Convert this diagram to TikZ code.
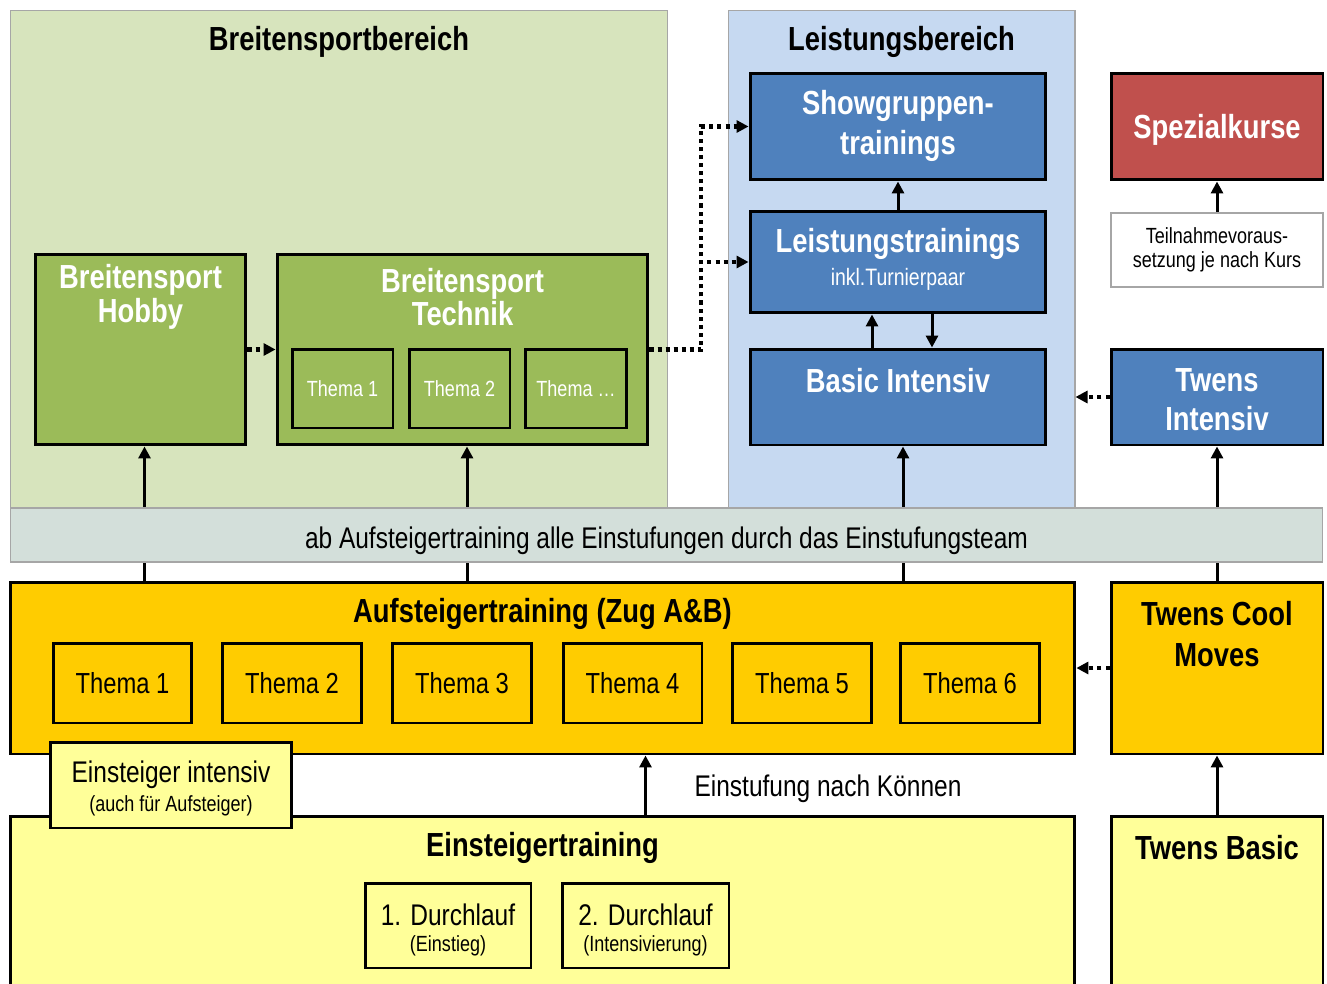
\documentclass[tikz,border=0pt]{standalone}
\usepackage{fontspec}
\setmainfont[FakeStretch=0.82]{Liberation Sans}
\usetikzlibrary{%
  arrows.meta,%
  positioning,%
  calc%
}
\definecolor{bgGreen}{HTML}{D7E4BD}
\definecolor{bgBlue}{HTML}{C6D9F1}
\definecolor{bandGray}{HTML}{D3DFDA}
\definecolor{boxGreen}{HTML}{9BBB59}
\definecolor{boxBlue}{HTML}{4F81BD}
\definecolor{boxRed}{HTML}{C0504D}
\definecolor{boxOrange}{HTML}{FFCC00}
\definecolor{boxYellow}{HTML}{FFFF99}
\definecolor{frameGray}{HTML}{A6A6A6}

\begin{document}
\begin{tikzpicture}
[x=0.02cm, y=-0.02cm, line width=1.7pt, >={Triangle[length=2.4mm,width=2.4mm]},
area/.style={rectangle, draw=frameGray, line width=0.6pt, inner sep=0pt},
box/.style={rectangle, draw=black, line width=1.7pt, inner sep=0pt},
gbox/.style={box, fill=boxGreen},
bbox/.style={box, fill=boxBlue},
obox/.style={box, fill=boxOrange},
ybox/.style={box, fill=boxYellow},
gthema/.style={gbox, minimum width=2.02cm, minimum height=1.58cm, text=white, font=\fontsize{12.5}{14}\selectfont},
othema/.style={obox, minimum width=2.78cm, minimum height=1.6cm, font=\fontsize{16.5}{18}\selectfont},
areatitle/.style={font=\bfseries\fontsize{19}{21}\selectfont, inner sep=0pt},
wtitle/.style={text=white, align=center, font=\bfseries\fontsize{19}{19}\selectfont, inner sep=0pt},
ktitle/.style={align=center, font=\bfseries\fontsize{19}{23}\selectfont, inner sep=0pt},
plain/.style={align=center, font=\fontsize{17}{19}\selectfont, inner sep=0pt},
small/.style={align=center, font=\fontsize{12.5}{13.5}\selectfont, inner sep=0pt},
flow/.style={->, line width=1.7pt},
hint/.style={->, line width=2.3pt, dash pattern=on 2.3pt off 2.3pt}]

\useasboundingbox (0,0) rectangle (1327,983);

% Bereiche
\node[area, fill=bgGreen, minimum width=13.16cm, minimum height=9.96cm] (breiten) at (339,259) {};
\node[area, fill=bgBlue, minimum width=6.94cm, minimum height=9.96cm] (leistung) at (901.5,259) {};
\node[areatitle] (breitenT) at (339,42) {Breitensportbereich};
\node[areatitle] (leistungT) at (901.5,42) {Leistungsbereich};

% Breitensport
\node[gbox, minimum width=4.22cm, minimum height=3.82cm] (hobby) at (140.5,349.5) {};
\node[wtitle] (hobbyT) at (140.5,297) {Breitensport\\Hobby};
\node[gbox, minimum width=7.42cm, minimum height=3.82cm] (technik) at (462.5,349.5) {};
\node[wtitle] (technikT) at (462.5,297) {Breitensport\\Technik};
\node[gthema] (gthema1) at (342.5,388.5) {Thema 1};
\node[gthema] (gthema2) at (459.5,388.5) {Thema 2};
\node[gthema] (gthema3) at (576,388.5) {Thema \ldots};

% Leistung
\node[bbox, minimum width=5.92cm, minimum height=2.14cm] (show) at (898,126.5) {};
\node[wtitle, font=\bfseries\fontsize{19}{23}\selectfont] (showT) at (898,126) {Showgruppen-\\trainings};
\node[bbox, minimum width=5.92cm, minimum height=2.04cm] (leist) at (898,262) {};
\node[wtitle] (leistT) at (898,244) {Leistungstrainings};
\node[small, font=\fontsize{13.5}{15}\selectfont, text=white] (leistS) at (898,279) {inkl.Turnierpaar};
\node[bbox, minimum width=5.92cm, minimum height=1.92cm] (basic) at (898,397) {};
\node[wtitle] (basicT) at (898,381) {Basic Intensiv};

% rechte Spalte
\node[box, fill=boxRed, minimum width=4.24cm, minimum height=2.14cm] (spezial) at (1217,126.5) {};
\node[wtitle] (spezialT) at (1217,130) {Spezialkurse};
\node[rectangle, draw=frameGray, line width=1pt, fill=white, minimum width=4.24cm, minimum height=1.48cm] (teil) at (1217,250) {};
\node[small] (teilT) at (1217,250) {Teilnahmevoraus-\\setzung je nach Kurs};
\node[bbox, minimum width=4.24cm, minimum height=1.92cm] (twensI) at (1217,397) {};
\node[wtitle, font=\bfseries\fontsize{19}{22}\selectfont] (twensIT) at (1217,400) {Twens\\Intensiv};

% Pfeile durch das Band
\draw[flow] ([xshift=0.08cm]hobby.south |- 0,582) -- ([xshift=0.08cm]hobby.south);
\draw[flow] ([xshift=0.09cm]technik.south |- 0,582) -- ([xshift=0.09cm]technik.south);
\draw[flow] ([xshift=0.1cm]basic.south |- 0,582) -- ([xshift=0.1cm]basic.south);
\draw[flow] (twensI.south |- 0,582) -- (twensI.south);

\node[area, fill=bandGray, minimum width=26.26cm, minimum height=1.08cm] (band) at (666.5,535) {};
\node[plain] (bandT) at (666.5,541) {ab Aufsteigertraining alle Einstufungen durch das Einstufungsteam};

% Aufsteiger
\node[obox, minimum width=21.3cm, minimum height=3.44cm] (aufst) at (542.5,668) {};
\node[ktitle] (aufstT) at (542.5,614) {Aufsteigertraining (Zug A\&B)};
\foreach \x/\c in {122.5/1, 292/2, 462/3, 632.5/4, 802/5, 970/6} {
  \node[othema] (othema\c) at (\x,683) {Thema \c};
}
\node[obox, minimum width=4.24cm, minimum height=3.44cm] (cool) at (1217,668) {};
\node[ktitle, font=\bfseries\fontsize{19}{23}\selectfont] (coolT) at (1217,634) {Twens Cool\\Moves};

% Einsteiger
\node[ybox, minimum width=21.3cm, minimum height=3.6cm] (einT) at (542.5,906) {};
\node[ktitle] (einTT) at (542.5,848) {Einsteigertraining};
\node[ybox, minimum width=4.84cm, minimum height=1.72cm] (einI) at (171,785) {};
\node[plain] (einIT) at (171,775) {Einsteiger intensiv};
\node[small] (einIS) at (171,806) {(auch für Aufsteiger)};
\node[ybox, minimum width=3.32cm, minimum height=1.7cm] (dl1) at (448,925.5) {};
\node[plain] (dl1T) at (448,915) {1. Durchlauf};
\node[small] (dl1S) at (448,946) {(Einstieg)};
\node[ybox, minimum width=3.34cm, minimum height=1.7cm] (dl2) at (645.5,925.5) {};
\node[plain] (dl2T) at (645.5,915) {2. Durchlauf};
\node[small] (dl2S) at (645.5,946) {(Intensivierung)};
\node[ybox, minimum width=4.24cm, minimum height=3.6cm] (twensB) at (1217,906) {};
\node[ktitle] (twensBT) at (1217,848) {Twens Basic};
\node[plain] (stufe) at (828,789) {Einstufung nach Können};

% Pfeile
\draw[flow] (dl2 |- einT.north) -- (dl2 |- aufst.south);
\draw[flow] (twensB.north) -- (cool.south);
\draw[flow] (teil.north) -- (spezial.south);
\draw[flow] (leist.north) -- (show.south);
\draw[flow] ([xshift=-0.52cm]basic.north) -- ([xshift=-0.52cm]leist.south);
\draw[flow] ([xshift=0.68cm]leist.south) -- ([xshift=0.68cm]basic.north);

\draw[hint] (hobby.east) -- (technik.west);
\draw[hint] (technik.east) -- ++(52,0) |- (show.west);
\draw[hint] (technik.east) -- ++(52,0) |- (leist.west);
\draw[hint] (twensI.west) -- (leistung.east |- twensI.west);
\draw[hint] (cool.west) -- (aufst.east |- cool.west);

\end{tikzpicture}
\end{document}
